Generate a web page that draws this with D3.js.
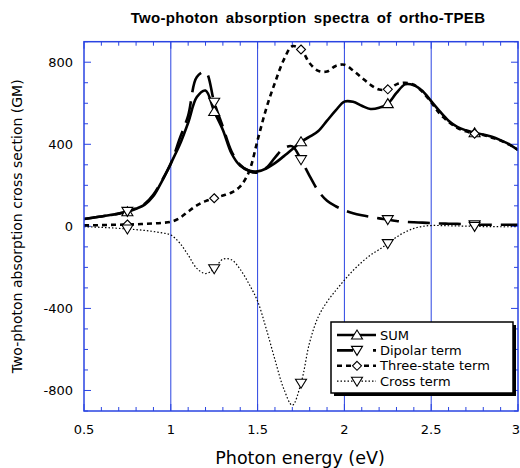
<!DOCTYPE html>
<html>
<head>
<meta charset="utf-8">
<script src="https://cdn.jsdelivr.net/npm/d3@7/dist/d3.min.js"></script>
<style>
	body { margin: 0; background: #fff; }
	text { font-family: "DejaVu Sans", sans-serif; fill: #000; }
</style>
</head>
<body>
<div id="graphicContainer"></div>
<script>
// photon energy grid (eV)
var energy = [0.5,0.55,0.6,0.65,0.7,0.75,0.8,0.85,0.9,0.95,1.0,1.05,1.1,1.15,1.2,1.25,1.3,1.35,1.4,1.45,1.5,1.55,1.6,1.65,1.7,1.75,1.8,1.85,1.9,1.95,2.0,2.05,2.1,2.15,2.2,2.25,2.3,2.35,2.4,2.45,2.5,2.55,2.6,2.65,2.7,2.75,2.8,2.85,2.9,2.95,3.0]

// cross sections (GM)
var sumTerm = [36,42,48,55,62,71,86,106,148,222,307,395,505,630,662,560,470,355,295,272,268,282,308,341,376,412,437,465,515,565,608,607,588,572,578,598,650,692,688,660,610,560,515,485,468,456,448,437,420,400,372]
var dipolarTerm = [36,42,48,55,63,73,88,110,155,225,305,425,540,728,752,605,485,365,300,270,262,285,335,380,390,325,245,172,125,98,78,64,54,46,39,33,26,22,20,18,16,14,13,12,10,8,8,8,8,8,8]
var threeStateTerm = [5,5,6,7,8,9,10,12,14,17,22,40,72,102,123,137,150,165,195,265,420,575,700,810,878,862,795,758,755,782,788,760,725,690,667,668,692,700,690,655,605,548,510,480,463,452,445,432,418,398,372]
var crossTerm = [-2,-3,-5,-7,-10,-13,-16,-20,-25,-32,-42,-80,-140,-205,-230,-207,-160,-163,-210,-280,-365,-500,-650,-790,-872,-765,-565,-440,-368,-313,-262,-215,-175,-140,-113,-84,-52,-28,-10,0,4,4,3,2,1,0,-1,-1,-2,-2,-2]

var markerEnergy = [0.75,1.25,1.75,2.25,2.75]
var xTicks = [0.5,1,1.5,2,2.5,3]
var yTicks = [-800,-400,0,400,800]

var seriesNames = ["SUM","Dipolar term","Three-state term","Cross term"]

function init() {
	var blue = "#2a44e2"
	var width = 520, height = 468
	var margin = {top: 41.7, right: 2, bottom: 57, left: 84}

	var svg = d3.select("#graphicContainer").append("svg")
		.attr("width", width)
		.attr("height", height)

	var x = d3.scaleLinear().domain([0.5, 3]).range([margin.left, width - margin.right])
	var y = d3.scaleLinear().domain([-900, 900]).range([height - margin.bottom, margin.top])

	svg.append("defs").append("clipPath").attr("id", "plotClip")
		.append("rect")
		.attr("x", x(0.5)).attr("y", y(900))
		.attr("width", x(3) - x(0.5)).attr("height", y(-900) - y(900))

	// vertical grid lines at the major x ticks
	svg.append("g").selectAll("line")
		.data(xTicks.slice(1, -1))
		.enter().append("line")
		.attr("x1", function(d) { return x(d) })
		.attr("x2", function(d) { return x(d) })
		.attr("y1", y(900)).attr("y2", y(-900))
		.attr("stroke", blue).attr("stroke-width", 1)

	// ticks inside on all four sides
	var xMinor = d3.range(5, 31).map(function(d) { return d / 10 })
	var yMinor = d3.range(-9, 10).map(function(d) { return d * 100 })

	var ticks = svg.append("g").attr("stroke", blue).attr("stroke-width", 1)
	xMinor.forEach(function(d) {
		var len = xTicks.indexOf(d) > -1 ? 7 : 4
		ticks.append("line").attr("x1", x(d)).attr("x2", x(d)).attr("y1", y(-900)).attr("y2", y(-900) - len)
		ticks.append("line").attr("x1", x(d)).attr("x2", x(d)).attr("y1", y(900)).attr("y2", y(900) + len)
	})
	yMinor.forEach(function(d) {
		var len = yTicks.indexOf(d) > -1 ? 7 : 4
		ticks.append("line").attr("x1", x(0.5)).attr("x2", x(0.5) + len).attr("y1", y(d)).attr("y2", y(d))
		ticks.append("line").attr("x1", x(3)).attr("x2", x(3) - len).attr("y1", y(d)).attr("y2", y(d))
	})

	// curves
	var series = [
		{name: seriesNames[0], values: sumTerm, dash: null, width: 2.6, marker: "up"},
		{name: seriesNames[1], values: dipolarTerm, dash: "22,9", width: 2.6, marker: "down"},
		{name: seriesNames[2], values: threeStateTerm, dash: "5,4", width: 2.6, marker: "diamond"},
		{name: seriesNames[3], values: crossTerm, dash: "1.5,2", width: 1.2, marker: "down"}
	]

	var line = d3.line()
		.x(function(d) { return x(d[0]) })
		.y(function(d) { return y(d[1]) })
		.curve(d3.curveCatmullRom.alpha(0.5))

	var plot = svg.append("g").attr("clip-path", "url(#plotClip)")

	series.forEach(function(s) {
		var pts = energy.map(function(e, i) { return [e, s.values[i]] })
		plot.append("path")
			.datum(pts)
			.attr("d", line)
			.attr("fill", "none")
			.attr("stroke", "#000")
			.attr("stroke-width", s.width)
			.attr("stroke-dasharray", s.dash)
			.attr("stroke-linejoin", "round")
	})

	function markerPath(type) {
		if (type == "up") return "M0,-5L5.5,4L-5.5,4Z"
		if (type == "down") return "M0,5L5.5,-4L-5.5,-4Z"
		return "M0,-4.5L4.5,0L0,4.5L-4.5,0Z"
	}

	series.forEach(function(s) {
		plot.selectAll(null)
			.data(markerEnergy)
			.enter().append("path")
			.attr("d", markerPath(s.marker))
			.attr("transform", function(e) {
				var i = energy.indexOf(e)
				return "translate(" + x(e) + "," + y(s.values[i]) + ")"
			})
			.attr("fill", "#fff")
			.attr("stroke", "#000")
			.attr("stroke-width", 1.1)
	})

	// frame
	svg.append("rect")
		.attr("x", x(0.5)).attr("y", y(900))
		.attr("width", x(3) - x(0.5)).attr("height", y(-900) - y(900))
		.attr("fill", "none").attr("stroke", blue).attr("stroke-width", 1.5)

	// tick labels
	svg.append("g").selectAll("text")
		.data(xTicks)
		.enter().append("text")
		.attr("x", function(d) { return d == 3 ? width : x(d) })
		.attr("y", 434)
		.attr("text-anchor", function(d) { return d == 3 ? "end" : "middle" })
		.style("font-size", "13px")
		.text(function(d) { return d })

	svg.append("g").selectAll("text")
		.data(yTicks)
		.enter().append("text")
		.attr("x", 73)
		.attr("y", function(d) { return y(d) + 4.5 })
		.attr("text-anchor", "end")
		.style("font-size", "13px")
		.text(function(d) { return d })

	// titles
	svg.append("text")
		.attr("x", 308).attr("y", 23)
		.attr("text-anchor", "middle")
		.style("font-family", "'Liberation Sans', Arial, sans-serif")
		.style("font-weight", "bold")
		.style("font-size", "15px")
		.style("letter-spacing", "0.3px")
		.style("word-spacing", "3px")
		.text("Two-photon absorption spectra of ortho-TPEB")

	svg.append("text")
		.attr("x", 300).attr("y", 464)
		.attr("text-anchor", "middle")
		.style("font-size", "17.5px")
		.text("Photon energy (eV)")

	svg.append("text")
		.attr("transform", "translate(22," + y(0) + ") rotate(-90)")
		.attr("text-anchor", "middle")
		.style("font-size", "14px")
		.text("Two-photon absorption cross section (GM)")

	// legend
	var lg = svg.append("g").attr("transform", "translate(331,322)")
	lg.append("rect").attr("x", 3).attr("y", 3).attr("width", 182).attr("height", 71).attr("fill", "#000")
	lg.append("rect").attr("width", 182).attr("height", 71).attr("fill", "#fff").attr("stroke", "#000").attr("stroke-width", 1.5)

	var rows = lg.selectAll(".row")
		.data(series)
		.enter().append("g")
		.attr("class", "row")
		.attr("transform", function(d, i) { return "translate(0," + (13 + i * 15.4) + ")" })

	rows.append("line")
		.attr("x1", 6).attr("x2", 45)
		.attr("stroke", "#000")
		.attr("stroke-width", function(d) { return d.width })
		.attr("stroke-dasharray", function(d) { return d.name == "Dipolar term" ? "16,20" : d.dash })

	rows.append("path")
		.attr("d", function(d) { return markerPath(d.marker) })
		.attr("transform", "translate(26,0)")
		.attr("fill", "#fff").attr("stroke", "#000").attr("stroke-width", 1.1)

	rows.append("text")
		.attr("x", 49).attr("y", 4.5)
		.style("font-size", "13px")
		.text(function(d) { return d.name })
}

init()
</script>
</body>
</html>
